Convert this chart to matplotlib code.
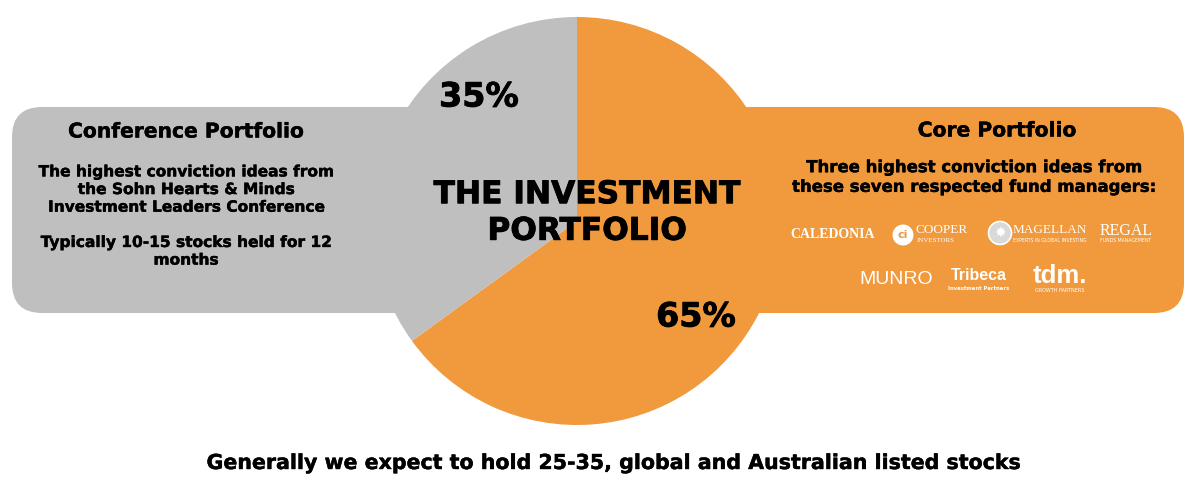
import matplotlib
matplotlib.use("Agg")
import matplotlib.pyplot as plt
import matplotlib.patheffects as pe
from matplotlib.patches import FancyBboxPatch, Circle

# ---- data ----
segments = ["Core Portfolio", "Conference Portfolio"]
shares = [65, 35]
share_labels = ["65%", "35%"]
colors = ["#F0993D", "#BFBFBF"]

center_title = "THE INVESTMENT\nPORTFOLIO"
left_title = "Conference Portfolio"
left_body = ["The highest conviction ideas from", "the Sohn Hearts & Minds",
             "Investment Leaders Conference", "", "Typically 10-15 stocks held for 12", "months"]
right_title = "Core Portfolio"
right_body = ["Three highest conviction ideas from", "these seven respected fund managers:"]
managers_row1 = ["Caledonia", "Cooper Investors", "Magellan", "Regal"]
managers_row2 = ["Munro", "Tribeca", "tdm."]
footer = "Generally we expect to hold 25-35, global and Australian listed stocks"

W, H = 1200, 487
plt.rcParams["font.family"] = ["DejaVu Sans"]
fig = plt.figure(figsize=(W / 100, H / 100), dpi=100)
ax = fig.add_axes([0, 0, 1, 1])

def Y(y):
    return H - y

# rounded side boxes
ax.add_patch(FancyBboxPatch((12, Y(313)), 430, 206,
                            boxstyle="round,pad=0,rounding_size=30",
                            fc=colors[1], ec="none", zorder=1))
ax.add_patch(FancyBboxPatch((720, Y(313)), 464, 206,
                            boxstyle="round,pad=0,rounding_size=30",
                            fc=colors[0], ec="none", zorder=1))

# pie
wedges, _ = ax.pie(shares, colors=colors, startangle=90, counterclock=False,
                   center=(577, Y(221)), radius=204, frame=True,
                   wedgeprops=dict(linewidth=0))
for w in wedges:
    w.set_zorder(2)
ax.set_xlim(0, W)
ax.set_ylim(0, H)
ax.set_aspect("auto")
ax.axis("off")

heavy = [pe.withStroke(linewidth=0.6, foreground="black")]
semi = [pe.withStroke(linewidth=0.3, foreground="black")]

big = dict(fontweight="bold", color="black", ha="center", va="center", zorder=5, path_effects=heavy)
ax.text(696, Y(317), share_labels[0], fontsize=24, **big)
ax.text(479, Y(97), share_labels[1], fontsize=24, **big)
ax.text(587, Y(213), center_title, fontsize=22.5, linespacing=1.33, **big)

txt = dict(fontweight="bold", color="black", ha="center", va="center", zorder=5, path_effects=semi)
# left box text
ax.text(186, Y(132), left_title, fontsize=14.6, **txt)
ax.text(186, Y(216), "\n".join(left_body), fontsize=11.1, linespacing=1.22, **txt)

# right box text
ax.text(997, Y(131), right_title, fontsize=14.6, **txt)
ax.text(974, Y(177), "\n".join(right_body), fontsize=11.9, linespacing=1.12, **txt)

# manager "logos" as white text
wt = dict(color="white", ha="center", va="center", zorder=5)
ax.text(833, Y(234), "CALEDONIA", fontsize=10, family="Liberation Serif", fontweight="bold", **wt)
ax.add_patch(Circle((903, Y(235)), 10.5, fc="white", ec="none", zorder=5))
ax.text(903, Y(235), "ci", fontsize=8, fontweight="bold", color=colors[0], ha="center", va="center", zorder=6)
ax.text(942, Y(230), "COOPER", fontsize=9.5, family="Liberation Serif", **wt)
ax.text(936, Y(241), "INVESTORS", fontsize=5, family="Liberation Serif", **wt)
ax.add_patch(Circle((1000, Y(233)), 11.5, fc="#D9D9D9", ec="white", lw=1.2, zorder=5))
ax.text(1000, Y(233), "✸", fontsize=10, color="white", ha="center", va="center", zorder=6)
ax.text(1050, Y(230), "MAGELLAN", fontsize=9.5, family="Liberation Serif", **wt)
ax.text(1050, Y(241), "EXPERTS IN GLOBAL INVESTING", fontsize=3.3, **wt)
ax.text(1126, Y(231), "REGAL", fontsize=11.5, family="Liberation Serif", **wt)
ax.text(1126, Y(241), "FUNDS MANAGEMENT", fontsize=3.3, **wt)

ax.text(896, Y(280), "MUNRO", fontsize=14, family="Liberation Sans", **wt)
ax.text(979, Y(276), "Tribeca", fontsize=11.5, fontweight="bold", family="Liberation Sans", **wt)
ax.text(979, Y(289), "Investment Partners", fontsize=3.8, fontweight="bold", **wt)
ax.text(1060, Y(276), "tdm.", fontsize=18.5, fontweight="bold", family="Liberation Sans", **wt)
ax.text(1060, Y(290), "GROWTH PARTNERS", fontsize=3.5, **wt)

# footer
ax.text(613, Y(463), footer, fontsize=14.8, **txt)

fig.savefig("out.png", dpi=100, facecolor="white")
